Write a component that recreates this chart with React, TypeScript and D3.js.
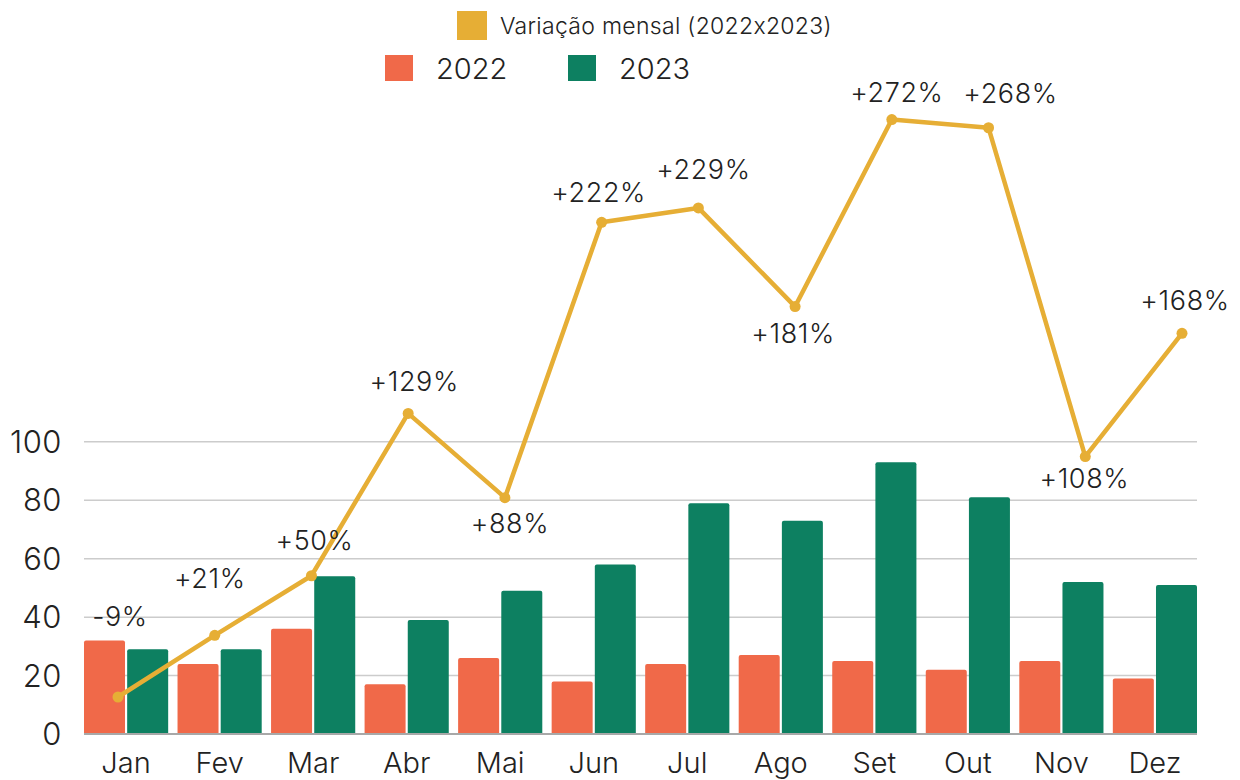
import * as d3 from 'd3'

const months = ['Jan', 'Fev', 'Mar', 'Abr', 'Mai', 'Jun', 'Jul', 'Ago', 'Set', 'Out', 'Nov', 'Dez']
const values2022 = [32, 24, 36, 17, 26, 18, 24, 27, 25, 22, 25, 19]
const values2023 = [29, 29, 54, 39, 49, 58, 79, 73, 93, 81, 52, 51]
const variation = [-9, 21, 50, 129, 88, 222, 229, 181, 272, 268, 108, 168]
const yTicks = [0, 20, 40, 60, 80, 100]
// where each % label sits relative to its point
const labelDx = [2, -5, 3, 6, 5, -3, 5, -2, 5, 22, -1, 3]
const labelDy = [-71, -47, -26, -22, 35, -20, -29, 36, -18, -25, 31, -23]

const COLORS = { y2022: '#f06949', y2023: '#0d8061', line: '#e6ae35' }
const FONT = 'Inter, Roboto, sans-serif'

const WIDTH = 1240
const HEIGHT = 780
const MARGIN = { top: 62, right: 43, bottom: 46, left: 84 }

export default function App() {
  const innerBottom = HEIGHT - MARGIN.bottom
  const right = WIDTH - MARGIN.right

  const x0 = d3.scaleBand().domain(months).range([MARGIN.left, right]).paddingInner(0.1).paddingOuter(0)
  const x1 = d3.scaleBand().domain(['2022', '2023']).range([0, x0.bandwidth()]).paddingInner(0.05)
  const y = d3.scaleLinear().domain([0, 230]).range([innerBottom, MARGIN.top])

  // the variation line has its own axes
  const xLine = d3.scalePoint().domain(months).range([MARGIN.left + 34, right - 15])
  const yLine = d3.scaleLinear().domain([-27, 300]).range([innerBottom, MARGIN.top])

  const linePath = d3
    .line<number>()
    .x((_, i) => xLine(months[i]) as number)
    .y((d) => yLine(d))(variation) as string

  const bar = (v: number, key: string, month: string, color: string) => {
    const bx = (x0(month) as number) + (x1(key) as number)
    const by = y(v)
    const h = innerBottom - by
    const r = 2
    const w = x1.bandwidth()
    const d = `M${bx},${innerBottom}V${by + r}Q${bx},${by} ${bx + r},${by}H${bx + w - r}Q${bx + w},${by} ${bx + w},${by + r}V${innerBottom}Z`
    return <path key={key + month} d={h > 0 ? d : ''} fill={color} />
  }

  return (
    <div style={{ position: 'fixed', left: 0, top: 0 }}>
      <svg
        width={WIDTH}
        height={HEIGHT}
        style={{ fontFamily: FONT, display: 'block', fontFeatureSettings: '"calt" 0' }}
      >
        <rect width={WIDTH} height={HEIGHT} fill="#fff" />

        {/* legend */}
        <rect x={457} y={11} width={30} height={29} fill={COLORS.line} />
        <text x={500} y={34} fontSize={23} fontWeight={300} letterSpacing={0.3} fill="#222">Variação mensal (2022x2023)</text>
        <rect x={385} y={55} width={28} height={26} fill={COLORS.y2022} />
        <text x={436} y={79} fontSize={29} fontWeight={300} fill="#222">2022</text>
        <rect x={568} y={55} width={28} height={26} fill={COLORS.y2023} />
        <text x={619} y={79} fontSize={29} fontWeight={300} fill="#222">2023</text>

        {/* grid */}
        {yTicks.map((t) => (
          <g key={t}>
            {t > 0 && (
              <line x1={MARGIN.left} x2={right} y1={y(t)} y2={y(t)} stroke="#cccccc" strokeWidth={1.5} />
            )}
            <text x={62} y={y(t)} dy="0.36em" textAnchor="end" fontSize={31} fontWeight={300} letterSpacing={0.5} fill="#222">{t}</text>
          </g>
        ))}

        {/* bars */}
        {months.map((m, i) => (
          <g key={m}>
            {bar(values2022[i], '2022', m, COLORS.y2022)}
            {bar(values2023[i], '2023', m, COLORS.y2023)}
          </g>
        ))}

        <line x1={MARGIN.left} x2={right} y1={innerBottom} y2={innerBottom} stroke="#a8a8a8" strokeWidth={2} />

        {/* x labels */}
        {months.map((m) => (
          <text key={m} x={(x0(m) as number) + x0.bandwidth() / 2} y={773} textAnchor="middle" fontSize={29} fontWeight={300} fill="#222">{m}</text>
        ))}

        {/* variation line */}
        <path d={linePath} fill="none" stroke={COLORS.line} strokeWidth={4.5} strokeLinejoin="round" />
        {variation.map((v, i) => (
          <circle key={i} cx={xLine(months[i])} cy={yLine(v)} r={5.5} fill={COLORS.line} />
        ))}
        {variation.map((v, i) => (
          <text
            key={'l' + i}
            x={(xLine(months[i]) as number) + labelDx[i]}
            y={yLine(v) + labelDy[i]}
            textAnchor="middle"
            fontSize={27}
            fontWeight={300}
            letterSpacing={0.6}
            fill="#222"
          >
            {(v > 0 ? '+' : '') + v + '%'}
          </text>
        ))}
      </svg>
    </div>
  )
}
